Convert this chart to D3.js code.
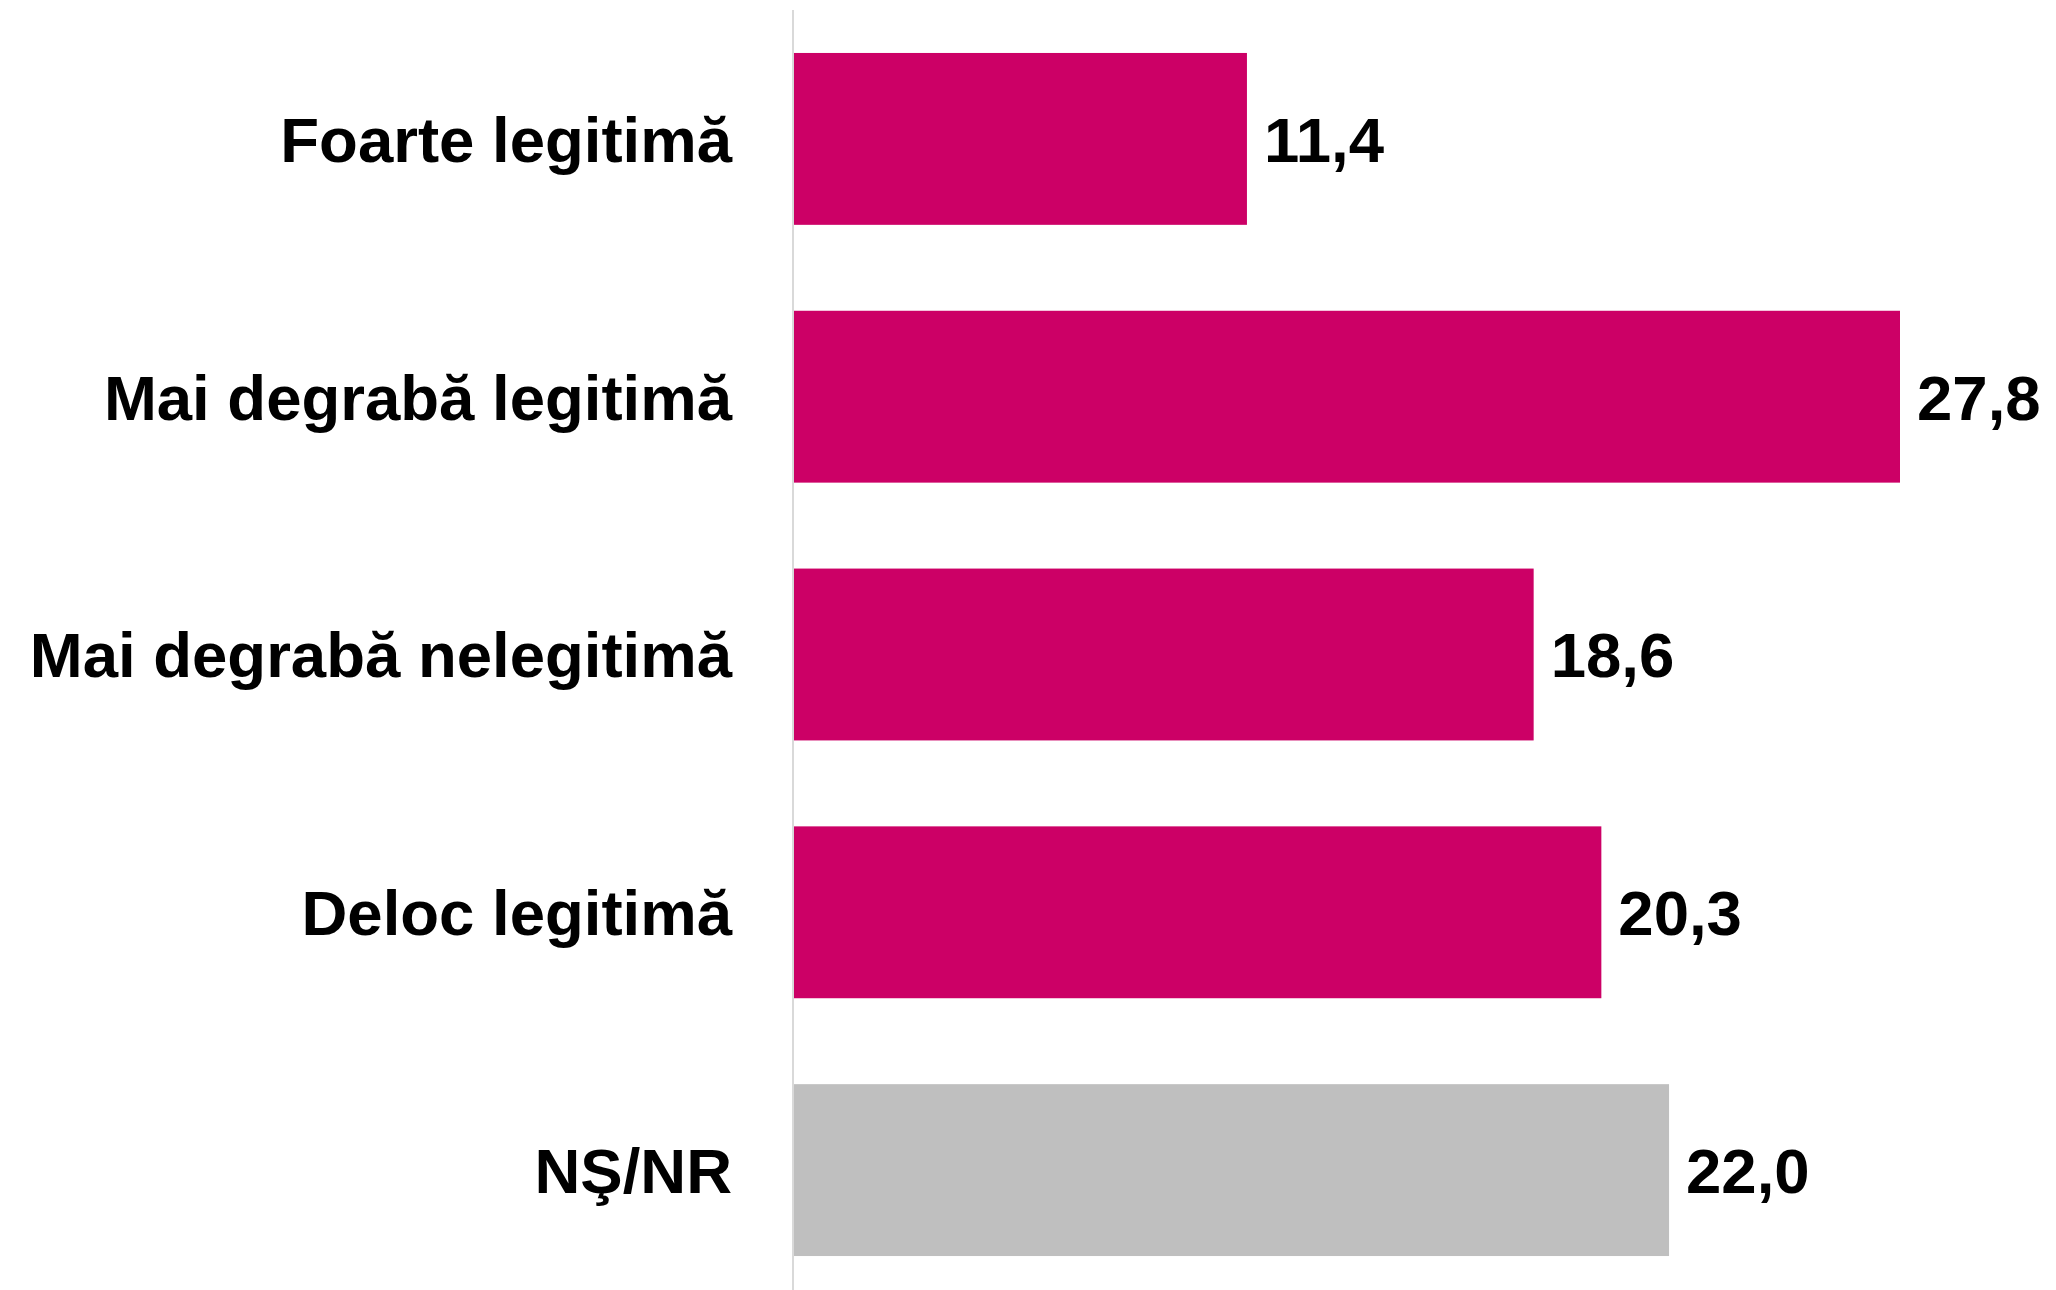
<!DOCTYPE html>
<html>
<head>
<meta charset="utf-8">
<script src="https://cdn.jsdelivr.net/npm/d3@7"></script>
<style>
  html, body { margin: 0; padding: 0; background: #fff; }
  svg { display: block; font-family: "Liberation Sans", Arial, sans-serif; }
</style>
</head>
<body>
<svg id="chart"></svg>
<script>
const categories = ['Foarte legitimă', 'Mai degrabă legitimă', 'Mai degrabă nelegitimă', 'Deloc legitimă', 'NŞ/NR'];
const values = [11.4, 27.8, 18.6, 20.3, 22.0];
const barColors = ['#CC0066', '#CC0066', '#CC0066', '#CC0066', '#BFBFBF'];

const width = 2056, height = 1290;
const svg = d3.select('#chart').attr('width', width).attr('height', height);

const data = categories.map((c, i) => ({ label: c, value: values[i], color: barColors[i] }));

const x = d3.scaleLinear().domain([0, 27.8]).range([793, 1900]);
const y = d3.scaleBand()
  .domain(categories)
  .range([10, 1299])
  .paddingInner(1 / 3)
  .paddingOuter(1 / 6);

const fmt = v => d3.format('.1f')(v).replace('.', ',');

// bars
svg.selectAll('rect.bar')
  .data(data)
  .join('rect')
  .attr('class', 'bar')
  .attr('x', x(0))
  .attr('y', d => y(d.label))
  .attr('width', d => x(d.value) - x(0))
  .attr('height', y.bandwidth())
  .attr('fill', d => d.color);

// vertical axis line
svg.append('line')
  .attr('x1', x(0)).attr('x2', x(0))
  .attr('y1', 10).attr('y2', height)
  .attr('stroke', '#d9d9d9')
  .attr('stroke-width', 2);

// category labels
svg.selectAll('text.cat')
  .data(data)
  .join('text')
  .attr('class', 'cat')
  .attr('x', 732)
  .attr('y', d => y(d.label) + y.bandwidth() / 2)
  .attr('dy', '0.36em')
  .attr('text-anchor', 'end')
  .attr('font-size', 63.5)
  .attr('font-weight', 'bold')
  .attr('fill', '#000')
  .text(d => d.label);

// value labels
svg.selectAll('text.val')
  .data(data)
  .join('text')
  .attr('class', 'val')
  .attr('x', d => x(d.value) + 17)
  .attr('y', d => y(d.label) + y.bandwidth() / 2)
  .attr('dy', '0.36em')
  .attr('font-size', 63.5)
  .attr('font-weight', 'bold')
  .attr('fill', '#000')
  .text(d => fmt(d.value));
</script>
</body>
</html>
